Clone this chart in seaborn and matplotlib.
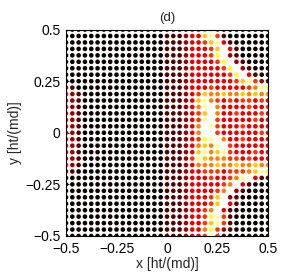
import numpy as np
import pandas as pd
import matplotlib
matplotlib.use("Agg")
import matplotlib.pyplot as plt
import seaborn as sns

# grid coordinates (33 x 33 lattice)
x_values = np.linspace(-0.5, 0.5, 33)
y_values = np.linspace(0.5, -0.5, 33)   # top row first

# intensity level of each dot (0 = black ... 9 = white), rows from top (y=0.5) to bottom
level_rows = [
    "000000000000000011123357310000000",
    "000000000000000011123368410000000",
    "000000000000000011123346831000000",
    "000000000000000011123334693100000",
    "000000000000000011123334792100000",
    "000000000000000011123333479210000",
    "000000000000000011123333347921000",
    "000000000000000011123333334793100",
    "000000000000000011123333333468421",
    "210000000000000011123334333334587",
    "321000000000000011123465565565655",
    "321000000000000011123685434344343",
    "321000000000000011123589533334334",
    "321000000000000011123469533433343",
    "321000000000000011123489433333433",
    "321000000000000011123598433343333",
    "321000000000000011123599433333343",
    "321000000000000011123478953343333",
    "321000000000000011123565894333333",
    "321000000000000011123685684333433",
    "321000000000000011124865554434333",
    "321000000000000011123555655655655",
    "210000000000000011123344434445687",
    "000000000000000011123334334589311",
    "000000000000000011123333345931000",
    "000000000000000011123333459210000",
    "000000000000000011123334692100000",
    "000000000000000011123334693100000",
    "000000000000000011123345931000000",
    "000000000000000011123347841000000",
    "000000000000000011123346841000000",
    "000000000000000011123357421000000",
    "000000000000000011123348410000000",
]

tick_values = [-0.5, -0.25, 0, 0.25, 0.5]
x_tick_labels = ["\u22120.5", "\u22120.25", "0", "0.25", "0.5"]
y_tick_labels = ["\u22120.5", "\u22120.25", "0", "0.25", "0.5"]
title_text = "(d)"
x_label = "x [ht/(md)]"
y_label = "y [ht/(md)]"

for r in level_rows:
    if len(r) != 33:
        raise ValueError(f"bad row length {len(r)}: {r}")

records = []
for j, row in enumerate(level_rows):
    for i, ch in enumerate(row):
        records.append((x_values[i], y_values[j], int(ch)))
df = pd.DataFrame(records, columns=["x", "y", "level"])

sns.set_style("white")
plt.rcParams["font.family"] = ["Liberation Sans", "DejaVu Sans"]
plt.rcParams["font.size"] = 10

fig = plt.figure(figsize=(2.85, 2.72), dpi=100)
ax = fig.add_axes([0.2316, 0.1324, 0.7088, 0.759])

sns.scatterplot(data=df, x="x", y="y", hue="level", palette="hot",
                hue_norm=(0, 9), s=11, linewidth=0, legend=False, ax=ax)

ax.set_xlim(-0.5, 0.5)
ax.set_ylim(-0.5, 0.5)
ax.set_xticks(tick_values)
ax.set_xticklabels(x_tick_labels)
ax.set_yticks(tick_values)
ax.set_yticklabels(y_tick_labels)
ax.tick_params(direction="in", length=2.5, width=0.6, labelsize=10, pad=4,
               bottom=True, left=True, colors="black")
ax.set_xlabel(x_label, fontsize=10, labelpad=1)
ax.set_ylabel(y_label, fontsize=10, labelpad=2)
ax.set_title(title_text, fontsize=9.5, pad=6)
for sp in ax.spines.values():
    sp.set_visible(True)
    sp.set_color("black")
    sp.set_linewidth(0.8)

fig.savefig("out.png", dpi=100)
